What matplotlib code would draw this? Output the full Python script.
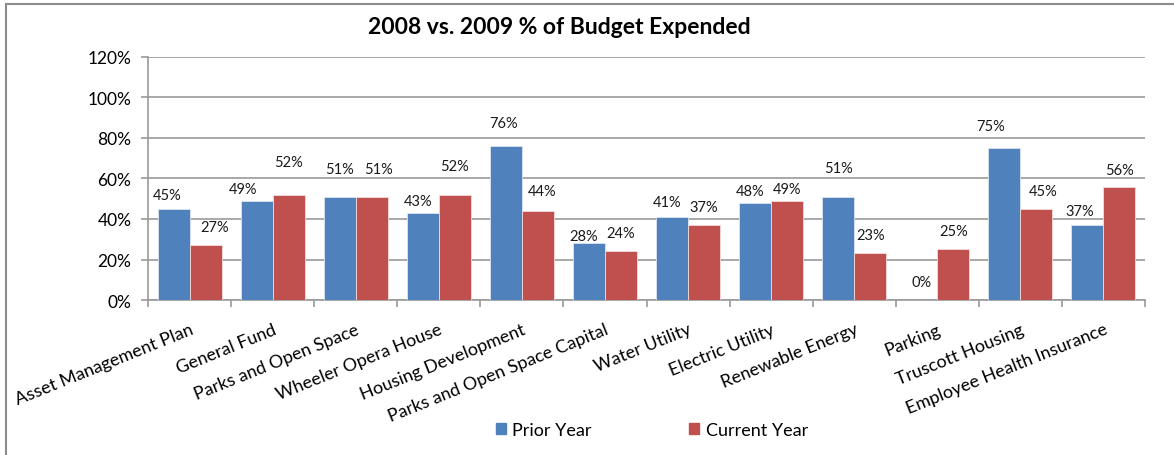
import matplotlib
matplotlib.use("Agg")
import matplotlib.pyplot as plt
import numpy as np
from matplotlib.patches import Rectangle, Patch

categories = ["Asset Management Plan", "General Fund", "Parks and Open Space",
              "Wheeler Opera House", "Housing Development", "Parks and Open Space Capital",
              "Water Utility", "Electric Utility", "Renewable Energy", "Parking",
              "Truscott Housing", "Employee Health Insurance"]
prior_year = [45, 49, 51, 43, 76, 28, 41, 48, 51, 0, 75, 37]
current_year = [27, 52, 51, 52, 44, 24, 37, 49, 23, 25, 45, 56]
y_ticks = [0, 20, 40, 60, 80, 100, 120]

# label offsets (pixels) from bar tops, as placed in the original
prior_gap = [14, 12, 28, 12, 23, 7, 15, 12, 29, 18, 22, 14]
current_gap = [18, 33, 28, 29, 20, 18, 18, 12, 18, 18, 18, 17]
prior_dx = [-6.5, -14, 0, -5, -2.5, -5, -5, -5, 0, 0, -14, -7.5]
current_dx = [9, 0, 7, 0, 4.5, 0, 0, 0, 0, 0, 7, 0]

plt.rcParams['font.family'] = ['Lato', 'DejaVu Sans']
BLUE = '#4F81BD'
RED = '#C0504D'
GRID = '#9a9a9a'
PT = 0.72  # points per pixel at 100 dpi

fig = plt.figure(figsize=(11.74, 4.56), dpi=100)
fig.patches.append(Rectangle((6/1174, -0.1), 1.1, 1.1 - 5/456,
                             transform=fig.transFigure, fill=False,
                             edgecolor='#8c8c8c', linewidth=1.5))
ax = fig.add_axes([148/1174, (456-301)/456, (1145-148)/1174, (301-58)/456])

x = np.arange(len(categories))
w = 0.385
ax.bar(x - w/2, prior_year, w, color=BLUE, edgecolor='#dbe5f1', linewidth=0.6, zorder=3)
ax.bar(x + w/2, current_year, w, color=RED, edgecolor='#f2dcdb', linewidth=0.6, zorder=3)

for xi, v, g, dx in zip(x - w/2, prior_year, prior_gap, prior_dx):
    ax.annotate(f"{v}%", (xi, v), xytext=(dx * PT, g * PT), textcoords='offset points',
                ha='center', va='center', fontsize=10.5, color='#1a1a1a')
for xi, v, g, dx in zip(x + w/2, current_year, current_gap, current_dx):
    ax.annotate(f"{v}%", (xi, v), xytext=(dx * PT, g * PT), textcoords='offset points',
                ha='center', va='center', fontsize=10.5, color='#1a1a1a')

ax.set_xlim(-0.5, len(categories) - 0.5)
ax.set_ylim(0, 120)
ax.set_yticks(y_ticks)
ax.set_yticklabels([f"{t}%" for t in y_ticks], fontsize=12.5)
ax.yaxis.grid(True, color=GRID, linewidth=1.2, zorder=0)
ax.set_axisbelow(True)

ax.set_xticks(np.arange(-0.5, len(categories) + 0.5, 1), minor=False)
ax.set_xticklabels([])
ax.set_xticks(x, minor=True)
ax.set_xticklabels(categories, minor=True, rotation=22, ha='right', va='top',
                   rotation_mode='anchor', fontsize=12.9)
ax.tick_params(axis='x', which='minor', length=0, pad=15)
ax.tick_params(axis='x', which='major', length=5, color=GRID, width=1.2)
ax.tick_params(axis='y', length=5, color=GRID, width=1.2, pad=7)

for s in ['top', 'right']:
    ax.spines[s].set_visible(False)
for s in ['left', 'bottom']:
    ax.spines[s].set_color(GRID)
    ax.spines[s].set_linewidth(1.2)

fig.text(559/1174, 1 - 27/456, "2008 vs. 2009 % of Budget Expended", ha='center', va='center',
         fontsize=16.5, fontweight='bold')

handles = [Patch(color=BLUE), Patch(color=RED)]
fig.legend(handles, ["Prior Year", "Current Year"], loc='center', bbox_to_anchor=(652/1174, 1 - 431/456),
           ncol=2, frameon=False, fontsize=13, handlelength=0.55, handleheight=0.55,
           handletextpad=0.35, columnspacing=5.4, borderpad=0, borderaxespad=0)

fig.savefig("out.png", dpi=100)
